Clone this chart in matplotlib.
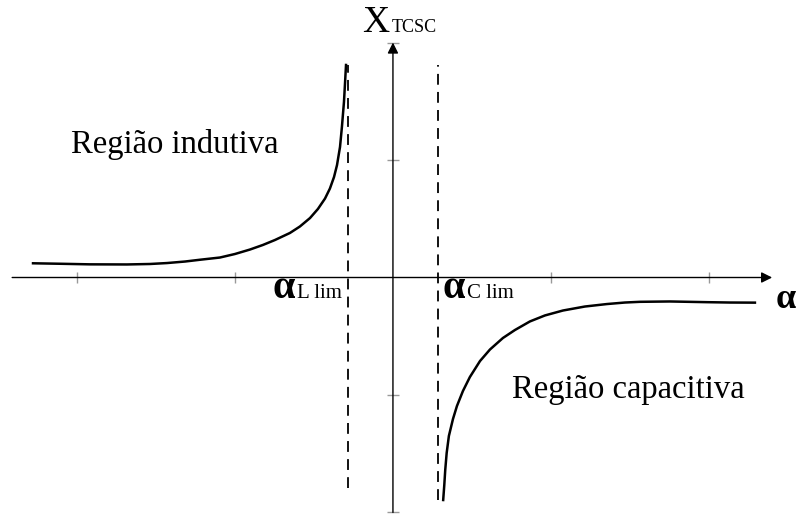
import matplotlib

matplotlib.use("Agg")
import matplotlib.pyplot as plt

plt.rcParams["font.family"] = ["Liberation Serif", "DejaVu Serif"]

# curva indutiva (alpha < alpha_L lim)
ind_alpha = [-2.278, -2.108, -1.918, -1.684, -1.538, -1.430, -1.316, -1.222,
             -1.095, -1.000, -0.905, -0.823, -0.747, -0.652, -0.589, -0.525,
             -0.475, -0.430, -0.399, -0.373, -0.354, -0.335, -0.323, -0.310,
             -0.304, -0.297]
ind_x = [0.121, 0.117, 0.112, 0.111, 0.115, 0.123, 0.136, 0.151,
         0.170, 0.200, 0.238, 0.277, 0.319, 0.379, 0.434, 0.506,
         0.583, 0.672, 0.757, 0.855, 0.957, 1.111, 1.281, 1.494,
         1.638, 1.809]

# curva capacitiva (alpha > alpha_C lim)
cap_alpha = [0.318, 0.325, 0.331, 0.340, 0.354, 0.380, 0.405, 0.443,
             0.487, 0.551, 0.614, 0.696, 0.772, 0.867, 0.962, 1.076,
             1.215, 1.354, 1.468, 1.563, 1.753, 1.987, 2.133, 2.291]
cap_x = [-1.894, -1.766, -1.638, -1.494, -1.349, -1.204, -1.094, -0.966,
         -0.847, -0.711, -0.613, -0.515, -0.447, -0.374, -0.323, -0.281,
         -0.247, -0.226, -0.213, -0.207, -0.204, -0.210, -0.213, -0.214]

alpha_lim = [-0.285, 0.285]
lim_top = [1.81, 1.81]
lim_bottom = [-1.79, -1.89]
lim_labels = ["L lim", "C lim"]
lim_label_x = [-0.76, 0.316]

x_ticks = [-2, -1, 1, 2]
y_ticks = [-2, -1, 1, 2]

fig = plt.figure(figsize=(7.96, 5.14), dpi=100)
ax = fig.add_axes([0, 0, 1, 1])
ax.set_xlim(-2.487, 2.551)
ax.set_ylim(-2.013, 2.362)
ax.axis("off")

# eixos com setas
ax.annotate("", xy=(2.40, 0), xytext=(-2.41, 0),
            arrowprops=dict(arrowstyle="-|>", lw=1.0, color="black",
                            mutation_scale=16, shrinkA=0, shrinkB=0))
ax.annotate("", xy=(0, 2.0), xytext=(0, -2.0),
            arrowprops=dict(arrowstyle="-|>", lw=1.0, color="black",
                            mutation_scale=16, shrinkA=0, shrinkB=0))

# marcas dos eixos
ax.vlines(x_ticks, -0.045, 0.045, color="#999999", lw=1.0)
ax.hlines(y_ticks, -0.04, 0.04, color="#999999", lw=1.0)

# limites de alpha
for a, top, bot in zip(alpha_lim, lim_top, lim_bottom):
    ax.plot([a, a], [bot, top], color="black", lw=1.3, linestyle=(0, (6, 4)))

ax.plot(ind_alpha, ind_x, color="black", lw=1.8, solid_joinstyle="round")
ax.plot(cap_alpha, cap_x, color="black", lw=1.8, solid_joinstyle="round")

# rótulos
for x0, lab in zip(lim_label_x, lim_labels):
    ax.text(x0, -0.095, "α", fontsize=29, fontweight="bold", ha="left", va="center")
    ax.text(x0 + 0.155, -0.135, lab, fontsize=15, ha="left", va="center")

ax.text(2.425, -0.19, "α", fontsize=26, fontweight="bold", ha="left", va="center")
ax.text(-0.195, 2.17, "X", fontsize=27, ha="left", va="center")
ax.text(-0.005, 2.13, "TCSC", fontsize=13, ha="left", va="center")

ax.text(-1.38, 1.13, "Região indutiva", fontsize=23.5, ha="center", va="center")
ax.text(1.487, -0.957, "Região capacitiva", fontsize=23.5, ha="center", va="center")

fig.savefig("out.png", dpi=100)
plt.close(fig)
